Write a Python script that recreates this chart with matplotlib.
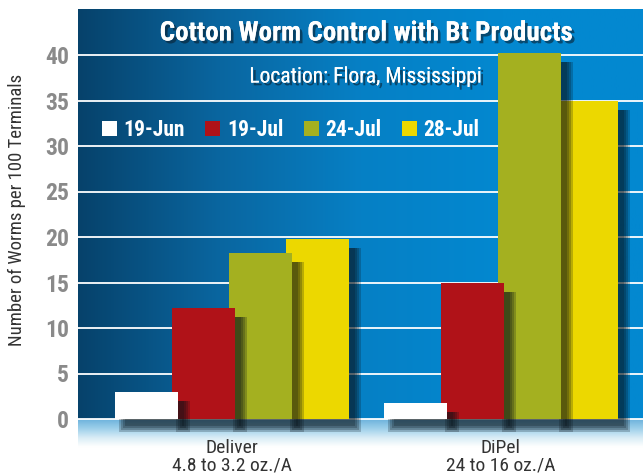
import matplotlib
matplotlib.use("Agg")
import matplotlib.pyplot as plt
import matplotlib.patheffects as pe
from matplotlib.patches import Patch
from matplotlib.colors import LinearSegmentedColormap
import numpy as np

# ---- data ----
products = ["Deliver\n4.8 to 3.2 oz./A", "DiPel\n24 to 16 oz./A"]
dates = ["19-Jun", "19-Jul", "24-Jul", "28-Jul"]
jun19 = [3.0, 1.8]
jul19 = [12.2, 15.0]
jul24 = [18.2, 40.2]
jul28 = [19.8, 35.0]
series = [jun19, jul19, jul24, jul28]
colors = ["#ffffff", "#b01218", "#a4b020", "#ecd800"]
yticks = [0, 5, 10, 15, 20, 25, 30, 35, 40]

FONT = ["Roboto Condensed", "Archivo Narrow", "DejaVu Sans"]
plt.rcParams["font.family"] = FONT

W, H = 643, 476
fig = plt.figure(figsize=(W / 100, H / 100), dpi=100)
fig.patch.set_facecolor("white")

# panel pixel geometry
L, T, R, B = 78, 9, 643, 456
ax = fig.add_axes([L / W, 1 - B / H, (R - L) / W, (B - T) / H])

y0_px, y40_px = 419, 55
ppu = (y0_px - y40_px) / 40.0
ylo = -(B - y0_px) / ppu
yhi = (y0_px - T) / ppu
gc0, gc1 = 232, 501
ppx = gc1 - gc0
xlo = -(gc0 - L) / ppx
xhi = 1 + (R - gc1) / ppx
ax.set_xlim(xlo, xhi)
ax.set_ylim(ylo, yhi)

# background: horizontal blue gradient above zero
bg = LinearSegmentedColormap.from_list("bg", ["#06426b", "#0a66a0", "#0680c5", "#0388d0", "#0388d0"])
grad = np.linspace(0, 1, 256).reshape(1, -1)
ax.imshow(grad, cmap=bg, aspect="auto", extent=(xlo, xhi, 0, yhi), zorder=0)
# fade below zero
fade = LinearSegmentedColormap.from_list("fade", ["#ffffff", "#ffffff", "#d8ecf6", "#9ccfea", "#6cb2dc"])
gv = np.linspace(0, 1, 256).reshape(-1, 1)
ax.imshow(gv, cmap=fade, aspect="auto", extent=(xlo, xhi, ylo, 0), origin="lower", zorder=0)

# grid lines
for t in yticks:
    ax.axhline(t, color="white", lw=1.3, zorder=1)

# bars with soft drop shadows
x = np.arange(len(products))
width = 0.232
offs = [-0.318, -0.106, 0.106, 0.318]
sdx, sdy = 8 / ppx, 9 / ppu
grows = [4.0, 2.0, 0.0, -2.0]
for i in reversed(range(4)):
    xi = x + offs[i]
    for g in grows:
        ax.bar(xi + sdx, np.array(series[i]) + 2 * g / ppu * 0.5, bottom=-sdy - g / ppu,
               width=width + 2 * g / ppx,
               color="#061016", alpha=0.22, linewidth=0, zorder=2 + (3 - i) * 2)
    ax.bar(xi, series[i], width=width, color=colors[i], linewidth=0,
           zorder=3 + (3 - i) * 2)

ax.set_yticks(yticks)
ax.set_yticklabels([str(t) for t in yticks], fontsize=17, fontweight="bold", color="#8a8a8a")
ax.tick_params(axis="y", length=0, pad=6.5)
ax.set_xticks(x)
ax.set_xticklabels(products, fontsize=14, color="#333333", linespacing=1.0)
ax.tick_params(axis="x", length=0, pad=-12.5)
for s in ax.spines.values():
    s.set_visible(False)
ax.set_ylabel("Number of Worms per 100 Terminals", fontsize=13.5, color="#333333")
ax.yaxis.set_label_coords(-(L - 26) / (R - L), (B - 210) / (B - T))

# title and subtitle
shadow = [pe.withSimplePatchShadow(offset=(2, -2), shadow_rgbFace="#0a2030", alpha=0.6), pe.Normal()]
ax.text((367 - L) / (R - L), (B - 33) / (B - T), "Cotton Worm Control with Bt Products",
        transform=ax.transAxes, ha="center", va="center", fontsize=19.5, fontweight="bold",
        color="white", path_effects=shadow, zorder=20)
ax.text((365 - L) / (R - L), (B - 77) / (B - T), "Location: Flora, Mississippi",
        transform=ax.transAxes, ha="center", va="center", fontsize=15.5,
        color="white", path_effects=shadow, zorder=20)

handles = [Patch(facecolor=c, edgecolor="none") for c in colors]
leg = ax.legend(handles, dates, ncol=4, frameon=False, loc="center left",
                bbox_to_anchor=((102 - L) / (R - L), (B - 130) / (B - T)),
                prop={"family": FONT, "weight": "bold", "size": 15.5},
                labelcolor="white", handlelength=0.7, handleheight=0.7, handletextpad=0.3,
                columnspacing=0.95, borderpad=0, borderaxespad=0)
leg.set_zorder(20)

fig.savefig("out.png", dpi=100, facecolor="white")
